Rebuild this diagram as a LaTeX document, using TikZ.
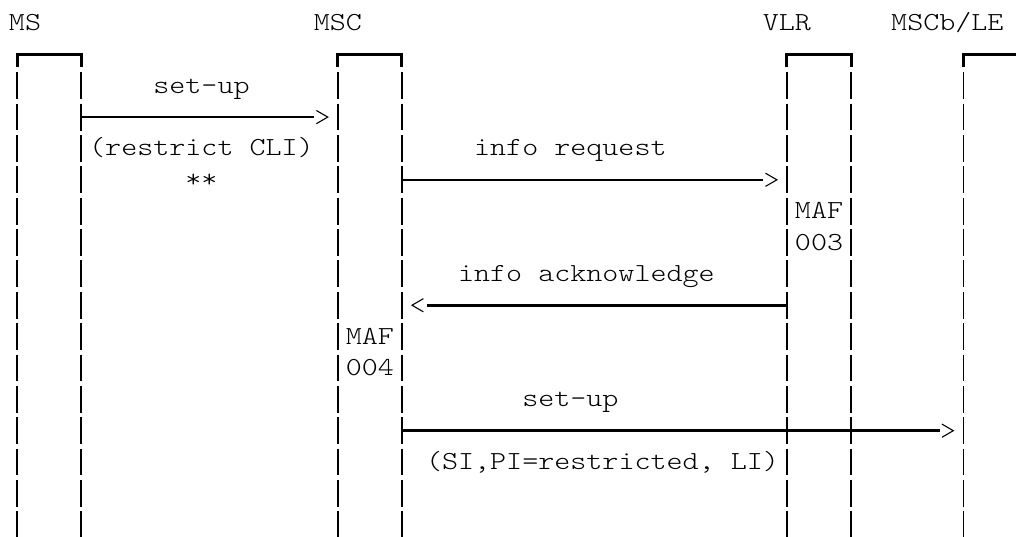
\documentclass[tikz,border=0pt]{standalone}
\usepackage{fontspec}
\newfontfamily\ascii{lmmonolt10-regular.otf}[FakeStretch=1.175]
\tikzset{
  life/.style={line width=1.4pt, line cap=butt},
  tick/.style={line width=2.6pt, line cap=butt},
  msg/.style={line width=2.6pt, line cap=butt},
  head/.style={line width=1.1pt, line join=miter},
  boxtop/.style={line width=3pt, line join=miter, line cap=butt},
  txt/.style={anchor=base west, inner sep=0pt, outer sep=0pt,
    font=\ascii\fontsize{26}{26}\selectfont},
}
\def\CL#1{(9+16.04*(#1))}
\def\CC#1{(17+16.04*(#1))}
\def\RC#1{(23+31.36*(#1))}
\def\RT#1{(7.3+31.36*(#1))}
\begin{document}
\begin{tikzpicture}[x=1pt,y=-1pt]
\useasboundingbox[fill=white] (0,0) rectangle (1016,536);
% lifelines
\foreach \c in {0,4,20,24,48,52,59}{
  \foreach \r in {2,...,16}{
    \draw[life] ({\CC{\c}},{\RT{\r}+2.3}) -- ({\CC{\c}},{\RT{\r+1}-2.3});
  }
}
% box tops
\foreach \a/\b in {0/4,20/24,48/52}{
  \draw[boxtop] ({\CC{\a}},{\RT{2}-2.6}) |- ({\CC{\b}},{\RC{1}}) -- ({\CC{\b}},{\RT{2}-2.6});
}
\draw[boxtop] ({\CC{59}},{\RT{2}-2.6}) |- (1020,{\RC{1}});
% labels
\node[txt] (tMS) at ({\CL{0}},{\RC{0}+7.5}) {MS};
\node[txt] (tMSC) at ({\CL{19}},{\RC{0}+7.5}) {MSC};
\node[txt] (tVLR) at ({\CL{47}},{\RC{0}+7.5}) {VLR};
\node[txt] (tMSCb) at ({\CL{55}},{\RC{0}+7.5}) {MSCb/LE};
\node[txt] (l1) at ({\CL{9}},{\RC{2}+7.5}) {set-up};
\node[txt] (l1b) at ({\CL{5}},{\RC{4}+7.5}) {(restrict CLI)};
\node[txt] (l1c) at ({\CL{11}},{\RC{5}+7.5}) {**};
\node[txt] (l2) at ({\CL{29}},{\RC{4}+7.5}) {info request};
\node[txt] (maf3a) at ({\CL{49}},{\RC{6}+7.5}) {MAF};
\node[txt] (maf3b) at ({\CL{49}},{\RC{7}+7.5}) {003};
\node[txt] (l3) at ({\CL{28}},{\RC{8}+7.5}) {info acknowledge};
\node[txt] (maf4a) at ({\CL{21}},{\RC{10}+7.5}) {MAF};
\node[txt] (maf4b) at ({\CL{21}},{\RC{11}+7.5}) {004};
\node[txt] (l4) at ({\CL{32}},{\RC{12}+7.5}) {set-up};
\node[txt] (l4b) at ({\CL{26}},{\RC{14}+7.5}) {(SI,PI=restricted, LI)};
% message end points
\coordinate (m1s) at ({\CC{4}},{\RC{3}});
\coordinate (m1e) at ({\CL{19}+0.3},{\RC{3}});
\coordinate (m2s) at ({\CC{24}},{\RC{5}});
\coordinate (m2e) at ({\CL{47}+0.5},{\RC{5}});
\coordinate (m3s) at ({\CC{48}},{\RC{9}});
\coordinate (m3e) at ({\CL{26}+0.7},{\RC{9}});
\coordinate (m4s) at ({\CC{24}},{\RC{13}});
\coordinate (m4e) at ({\CL{58}+0.6},{\RC{13}});
% messages
\draw[msg] (m1s) -- (m1e);
\draw[msg] (m2s) -- (m2e);
\draw[msg] (m3s) -- (m3e);
\draw[msg] (m4s) -- (m4e);
% ticks (+)
\foreach \c/\r in {4/3,24/5,48/9,24/13,48/13,52/13}{
  \draw[tick] ({\CC{\c}},{\RT{\r}+2.2}) -- ({\CC{\c}},{\RT{\r+1}-2.2});
}
% arrow heads
\foreach \c/\r in {19/3,47/5,58/13}{
  \draw[head] ({\CL{\c}+2.6},{\RC{\r}-6.6}) -- ({\CL{\c}+14},{\RC{\r}}) -- ({\CL{\c}+2.6},{\RC{\r}+6.6});
}
\draw[head] ({\CL{25}+13.4},{\RC{9}-6.6}) -- ({\CL{25}+2},{\RC{9}}) -- ({\CL{25}+13.4},{\RC{9}+6.6});
\end{tikzpicture}
\end{document}
